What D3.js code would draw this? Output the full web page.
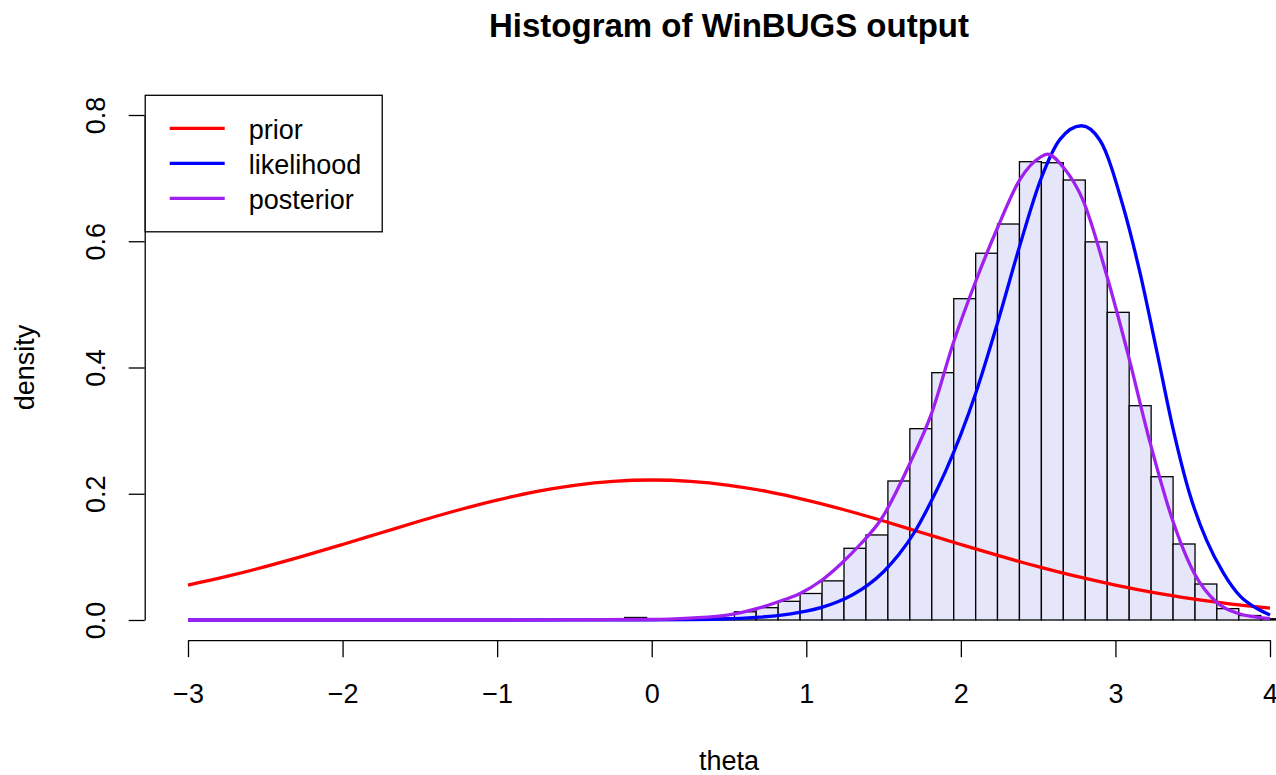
<!DOCTYPE html>
<html>
<head>
<meta charset="utf-8">
<script src="https://cdn.jsdelivr.net/npm/d3@7"></script>
<style>
  html, body { margin: 0; padding: 0; background: #fff; overflow: hidden; }
  svg { display: block; font-family: "Liberation Sans", Arial, Helvetica, sans-serif; }
</style>
</head>
<body>
<svg id="chart" width="1276" height="775"></svg>
<script>
// ---------- data ----------
const title = "Histogram of WinBUGS output";
const xLabel = "theta";
const yLabel = "density";

// histogram bin edges and bar densities
const breaks = [-0.175, -0.033, 0.109, 0.251, 0.393, 0.535, 0.676, 0.818, 0.960, 1.102,
                1.244, 1.386, 1.528, 1.670, 1.812, 1.954, 2.096, 2.237, 2.379, 2.521,
                2.663, 2.805, 2.947, 3.089, 3.231, 3.373, 3.515, 3.656, 3.798, 3.940, 4.082];
const densities = [0.004, 0.001, 0.002, 0.002, 0.003, 0.013, 0.0195, 0.0296, 0.042, 0.062,
                   0.1136, 0.1347, 0.2202, 0.3031, 0.3918, 0.509, 0.581, 0.6273, 0.726, 0.7244,
                   0.697, 0.599, 0.4874, 0.3395, 0.227, 0.1204, 0.057, 0.018, 0.0071, 0.002];

// prior curve
const priorX = [-3, -2.75, -2.5, -2.25, -2, -1.75, -1.5, -1.25, -1, -0.75, -0.5, -0.25, 0,
                0.25, 0.5, 0.75, 1, 1.25, 1.5, 1.75, 2, 2.25, 2.5, 2.75, 3, 3.25, 3.5, 3.75, 4];
const priorY = [0.0554, 0.069, 0.0845, 0.1015, 0.1196, 0.1382, 0.1568, 0.1743, 0.190, 0.2034, 0.2134, 0.2197, 0.2218,
                0.2197, 0.2134, 0.2034, 0.190, 0.1743, 0.1568, 0.1382, 0.1196, 0.1015, 0.0845, 0.069, 0.0554, 0.0435, 0.0336, 0.0253, 0.0189];

// likelihood curve
const likeX = [-3, -1, 0, 0.25, 0.5, 0.6, 0.7, 0.8, 0.9, 1.0, 1.1, 1.2, 1.3, 1.4, 1.5, 1.6, 1.7, 1.8, 1.9,
               2.0, 2.1, 2.24, 2.38, 2.52, 2.64, 2.78, 2.9, 3.05, 3.16, 3.27, 3.37, 3.48, 3.59, 3.70, 3.81, 3.91, 4.0];
const likeY = [0, 0, 0.0002, 0.0007, 0.002, 0.003, 0.0045, 0.0066, 0.0097, 0.014, 0.020, 0.0284, 0.040, 0.0556, 0.0765, 0.104, 0.139, 0.184, 0.235,
               0.294, 0.362, 0.473, 0.592, 0.700, 0.761, 0.783, 0.760, 0.655, 0.549, 0.423, 0.306, 0.200, 0.126, 0.074, 0.037, 0.019, 0.008];

// posterior curve
const postX = [-3, -1, 0, 0.25, 0.5, 0.68, 0.82, 0.96, 1.10, 1.22, 1.35, 1.48, 1.67, 1.81, 1.95, 2.10,
               2.24, 2.38, 2.52, 2.56, 2.66, 2.79, 2.94, 3.08, 3.22, 3.37, 3.51, 3.65, 3.79, 4.0];
const postY = [0, 0, 0.0008, 0.003, 0.008, 0.018, 0.029, 0.042, 0.063, 0.088, 0.120, 0.158, 0.248, 0.327, 0.438, 0.539,
               0.623, 0.697, 0.734, 0.738, 0.718, 0.665, 0.549, 0.4225, 0.285, 0.158, 0.074, 0.029, 0.0106, 0.002];

const xTicks = [-3, -2, -1, 0, 1, 2, 3, 4];
const xTickLabels = ["\u22123", "\u22122", "\u22121", "0", "1", "2", "3", "4"];
const yTicks = [0, 0.2, 0.4, 0.6, 0.8];
const yTickLabels = ["0.0", "0.2", "0.4", "0.6", "0.8"];

const legendNames = ["prior", "likelihood", "posterior"];
const legendColors = ["#FF0000", "#0000FF", "#A020F0"];

// ---------- drawing ----------
const svg = d3.select("#chart");
const x = d3.scaleLinear().domain([-3, 4]).range([188, 1270]);
const y = d3.scaleLinear().domain([0, 0.8]).range([620, 115]);
const axisX = x(-3.28);      // left edge of plot region
const axisY = y(-0.032);     // bottom edge of plot region
const plotRight = x(4.28);
const plotTop = y(0.832);
const midX = (axisX + plotRight) / 2;
const midY = (plotTop + axisY) / 2;

// histogram bars
const bins = densities.map((d, i) => ({ x0: breaks[i], x1: breaks[i + 1], d }));
svg.append("g").selectAll("rect").data(bins).join("rect")
  .attr("x", b => x(b.x0))
  .attr("y", b => y(b.d))
  .attr("width", b => x(b.x1) - x(b.x0))
  .attr("height", b => y(0) - y(b.d))
  .attr("fill", "#E6E6FA")
  .attr("stroke", "#000")
  .attr("stroke-width", 1.3);

// curves
const line = d3.line().x(d => x(d[0])).y(d => y(d[1])).curve(d3.curveMonotoneX);
const curves = [
  { xs: priorX, ys: priorY, color: legendColors[0] },
  { xs: likeX, ys: likeY, color: legendColors[1] },
  { xs: postX, ys: postY, color: legendColors[2] }
];
curves.forEach(c => {
  svg.append("path")
    .attr("d", line(c.xs.map((v, i) => [v, c.ys[i]])))
    .attr("fill", "none")
    .attr("stroke", c.color)
    .attr("stroke-width", 3.3)
    .attr("stroke-linejoin", "round");
});

// x axis
const gx = svg.append("g").attr("transform", `translate(0,${axisY})`)
  .call(d3.axisBottom(x).tickValues(xTicks).tickSize(17).tickSizeOuter(0)
    .tickFormat((d, i) => xTickLabels[i]));
gx.selectAll("path, line").attr("stroke", "#000").attr("stroke-width", 1.3);
gx.selectAll("text").attr("y", 63).attr("dy", 0)
  .attr("font-size", 27).attr("fill", "#000")
  .attr("font-family", "'Liberation Sans', Arial, sans-serif");

// y axis
const gy = svg.append("g").attr("transform", `translate(${axisX},0)`)
  .call(d3.axisLeft(y).tickValues(yTicks).tickSize(16).tickSizeOuter(0)
    .tickFormat((d, i) => yTickLabels[i]));
gy.selectAll("path, line").attr("stroke", "#000").attr("stroke-width", 1.3);
gy.selectAll("text")
  .attr("transform", "rotate(-90)")
  .attr("x", 0).attr("y", -(axisX - 104.5)).attr("dy", 0)
  .attr("text-anchor", "middle")
  .attr("font-size", 27).attr("fill", "#000")
  .attr("font-family", "'Liberation Sans', Arial, sans-serif");

// titles
svg.append("text").attr("x", midX).attr("y", 37)
  .attr("text-anchor", "middle").attr("font-size", 33).attr("font-weight", "bold")
  .text(title);
svg.append("text").attr("x", midX).attr("y", 770)
  .attr("text-anchor", "middle").attr("font-size", 27).text(xLabel);
svg.append("text").attr("transform", `translate(33.5,${midY}) rotate(-90)`)
  .attr("text-anchor", "middle").attr("font-size", 27).text(yLabel);

// legend
const leg = svg.append("g").attr("transform", `translate(${axisX},${plotTop})`);
leg.append("rect").attr("x", 0.5).attr("y", 0.5).attr("width", 237).attr("height", 136.5)
  .attr("fill", "#fff").attr("stroke", "#000").attr("stroke-width", 1.3);
legendNames.forEach((name, i) => {
  const cy = 33.5 + i * 35;
  leg.append("line").attr("x1", 25).attr("x2", 80).attr("y1", cy).attr("y2", cy)
    .attr("stroke", legendColors[i]).attr("stroke-width", 3.3);
  leg.append("text").attr("x", 104).attr("y", cy + 10.5)
    .attr("font-size", 27).text(name);
});
</script>
</body>
</html>
